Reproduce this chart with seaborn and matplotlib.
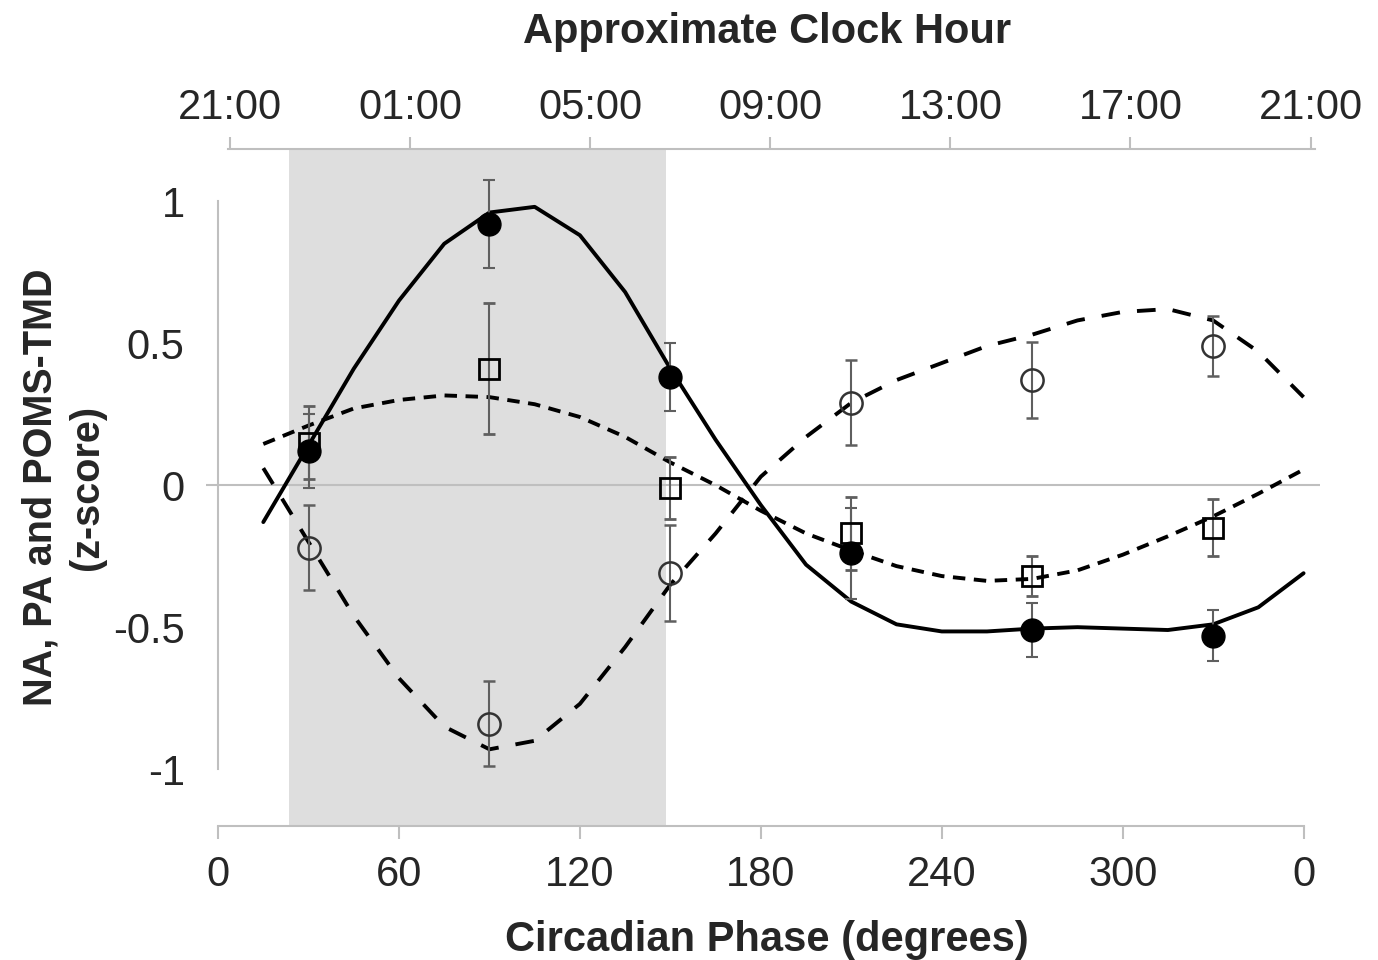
import numpy as np
import pandas as pd
import seaborn as sns
import matplotlib.pyplot as plt

# measured points (circadian phase bins) with SEM bars
phase_pts = [30, 90, 150, 210, 270, 330]
filled_mean = [0.12, 0.92, 0.38, -0.24, -0.51, -0.53]
filled_err = [0.13, 0.155, 0.12, 0.16, 0.095, 0.09]
square_mean = [0.15, 0.41, -0.01, -0.17, -0.32, -0.15]
square_err = [0.13, 0.23, 0.11, 0.13, 0.07, 0.10]
open_mean = [-0.22, -0.84, -0.31, 0.29, 0.37, 0.49]
open_err = [0.15, 0.15, 0.17, 0.15, 0.133, 0.105]

# fitted curves
fit_phase = [15, 30, 45, 60, 75, 90, 105, 120, 135, 150, 165, 180,
             195, 210, 225, 240, 255, 270, 285, 300, 315, 330, 345, 360]
fit_solid = [-0.13, 0.14, 0.41, 0.65, 0.85, 0.96, 0.98, 0.88, 0.68, 0.41, 0.16, -0.07,
             -0.28, -0.41, -0.49, -0.515, -0.515, -0.505, -0.50, -0.505, -0.51, -0.49, -0.43, -0.31]
fit_long = [0.06, -0.20, -0.46, -0.68, -0.85, -0.93, -0.90, -0.77, -0.57, -0.35, -0.17, 0.03,
            0.17, 0.29, 0.37, 0.43, 0.49, 0.53, 0.58, 0.61, 0.62, 0.58, 0.47, 0.31]
fit_short = [0.145, 0.21, 0.27, 0.30, 0.316, 0.31, 0.285, 0.24, 0.17, 0.08, 0.0, -0.09,
             -0.17, -0.23, -0.285, -0.32, -0.337, -0.33, -0.30, -0.245, -0.18, -0.11, -0.03, 0.055]

x_ticks = [0, 60, 120, 180, 240, 300, 360]
x_labels = ['0', '60', '120', '180', '240', '300', '0']
y_ticks = [-1, -0.5, 0, 0.5, 1]
y_labels = ['-1', '-0.5', '0', '0.5', '1']
clock_hours = [0, 4, 8, 12, 16, 20, 24]
clock_labels = ['21:00', '01:00', '05:00', '09:00', '13:00', '17:00', '21:00']
night_start, night_end = 23.5, 148.5

sns.set_style('white')
plt.rcParams['font.family'] = ['Liberation Sans', 'DejaVu Sans']

fits = pd.DataFrame({
    'phase': fit_phase * 3,
    'z': fit_solid + fit_long + fit_short,
    'series': ['solid'] * 24 + ['long'] * 24 + ['short'] * 24,
})

grey = '#bfbfbf'
fig = plt.figure(figsize=(13.78, 9.6), dpi=100)
ax = fig.add_axes([0.1495, 0.1396, 0.814, 0.705])

ax.axvspan(night_start, night_end, color='#dedede', lw=0, zorder=0)
ax.hlines(0, -4, 365.5, color=grey, lw=1.5, zorder=1)

sns.lineplot(data=fits, x='phase', y='z', style='series',
             dashes={'solid': '', 'long': (4.8, 4.4), 'short': (3.2, 2.2)},
             color='black', lw=2.8, legend=False, errorbar=None, ax=ax, zorder=3)

ebar = dict(ecolor='#5f5f5f', elinewidth=1.5, capsize=4.5, capthick=1.5, ls='none', zorder=4)
ax.errorbar(phase_pts, filled_mean, yerr=filled_err, fmt='o', ms=16.5,
            mfc='black', mec='black', **ebar)
ax.errorbar(phase_pts, square_mean, yerr=square_err, fmt='s', ms=15,
            mfc='none', mec='black', mew=2, **ebar)
ax.errorbar(phase_pts, open_mean, yerr=open_err, fmt='o', ms=16,
            mfc='none', mec='#333333', mew=1.8, **ebar)

ax.set_xlim(-4, 368)
ax.set_ylim(-1.2, 1.183)
ax.set_xticks(x_ticks)
ax.set_xticklabels(x_labels)
ax.set_yticks(y_ticks)
ax.set_yticklabels(y_labels)
ax.tick_params(axis='both', direction='out', length=9, width=1.5, color=grey,
               labelsize=30, pad=12)
ax.tick_params(axis='y', pad=15)
for s in ['top', 'right']:
    ax.spines[s].set_visible(False)
ax.spines['left'].set_position(('data', 0))
ax.spines['left'].set_bounds(-1, 1)
ax.spines['bottom'].set_bounds(0, 360)
for s in ['left', 'bottom']:
    ax.spines[s].set_color(grey)
    ax.spines[s].set_linewidth(1.5)

ax.set_xlabel('Circadian Phase (degrees)', fontsize=30, fontweight='bold', labelpad=18)
ax.set_ylabel('NA, PA and POMS-TMD\n(z-score)', fontsize=28.5, fontweight='bold',
              labelpad=5, linespacing=1.3)

# top clock-hour axis
ax2 = ax.twiny()
ax2.set_xlim(-0.533, 24.38)
ax2.set_xticks(clock_hours)
ax2.set_xticklabels(clock_labels)
for s in ['left', 'right', 'bottom']:
    ax2.spines[s].set_visible(False)
ax2.spines['top'].set_bounds(-0.05, 24.1)
ax2.spines['top'].set_color(grey)
ax2.spines['top'].set_linewidth(1.5)
ax2.tick_params(axis='x', direction='out', length=9, width=1.5, color=grey,
                labelsize=30, pad=6)
ax2.set_xlabel('Approximate Clock Hour', fontsize=30, fontweight='bold', labelpad=33)

fig.savefig('out.png', dpi=100)
